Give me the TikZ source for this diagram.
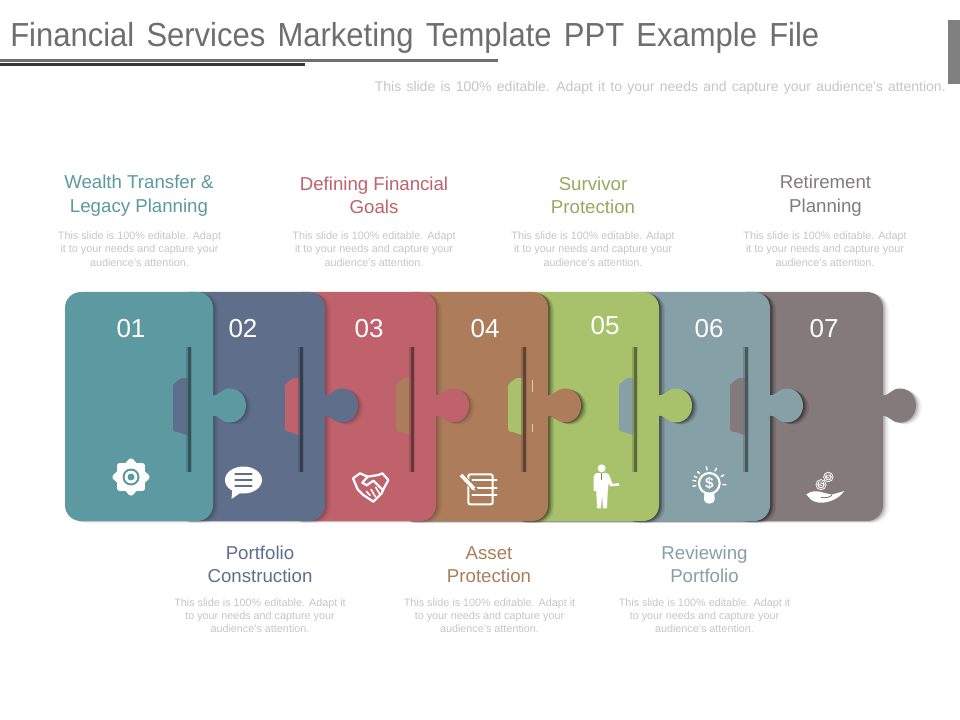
\documentclass[tikz,border=0pt]{standalone}
\usepackage{fontspec}
\setmainfont{Liberation Sans}
\newfontfamily\titlefont[FakeStretch=0.93,WordSpace=1.42]{Liberation Sans}
\newfontfamily\subfont[WordSpace=1.35]{Liberation Sans}
\definecolor{cA}{HTML}{5C99A0}
\definecolor{cB}{HTML}{5F6F8B}
\definecolor{cC}{HTML}{BF626C}
\definecolor{cD}{HTML}{AD7C5B}
\definecolor{cE}{HTML}{A8C26C}
\definecolor{cF}{HTML}{85A0A6}
\definecolor{cG}{HTML}{857A7B}
\definecolor{titlegray}{HTML}{6E6E6E}
\definecolor{bodygray}{HTML}{C6C6C6}
\tikzset{
  x=0.75pt,y=-0.75pt,
  heading/.style={align=center,font=\fontsize{14}{17.6}\selectfont,inner sep=0pt},
  bodytext/.style={align=center,text=bodygray,font=\fontsize{8.1}{9.9}\selectfont,inner sep=0pt},
  numlabel/.style={text=white,font=\fontsize{19.5}{22}\selectfont,inner sep=0pt},
  iconscope/.style={x=.25pt,y=-.25pt},
  stroke/.style={white,line width=#1,line join=round,line cap=round},
  stroke/.default=1.5pt,
}
% #1 left, #2 right
\newcommand{\piecepath}[2]{
  (#1+16,292) -- (#2-16,292) .. controls (#2-7,292) and (#2,299) .. (#2,308)
  -- (#2,395.5) .. controls (#2+6,396) and (#2+8,388.5) .. (#2+17,388.5)
  .. controls (#2+26,388.5) and (#2+33,396) .. (#2+33,405.5)
  .. controls (#2+33,415) and (#2+26,422.5) .. (#2+17,422.5)
  .. controls (#2+8,422.5) and (#2+6,415.5) .. (#2,415.5)
  -- (#2,505) .. controls (#2,514) and (#2-7,521) .. (#2-16,521)
  -- (#1+16,521) .. controls (#1+7,521) and (#1,514) .. (#1,505)
  -- (#1,308) .. controls (#1,299) and (#1+7,292) .. (#1+16,292) -- cycle
}
% #1 left #2 right #3 colour #4 shadow strength
\newcommand{\piece}[4]{
  \foreach \s/\o in {1/0.10,2/0.10,3/0.10,4.5/0.07,6/0.05}{
    \fill[black,opacity=#4*\o] [shift={(\s,\s*0.35)}] \piecepath{#1}{#2};
  }
  \fill[#3] \piecepath{#1}{#2};
}
% #1 right edge, #2 own colour, #3 next colour
\newcommand{\slot}[3]{
  \fill[#3] (#1-23,378) -- (#1-31,378) .. controls (#1-35,380) and (#1-37,382) .. (#1-40,385)
     -- (#1-40,428) .. controls (#1-40,432) and (#1-37,432) .. (#1-35,432) -- (#1-23,436) -- cycle;
  \fill[#2!55!black] (#1-25.5,347) rectangle (#1-22,472);
  \fill[#2!75!black,opacity=.6] (#1-27,347) rectangle (#1-25.5,472);
  \fill[#2!80!black,opacity=.5] (#1-22,347) rectangle (#1-21,472);
}
\begin{document}
\begin{tikzpicture}
\useasboundingbox (0,0) rectangle (960,720);
\fill[white] (0,0) rectangle (960,720);

% title block
\node[anchor=west,text=titlegray,inner sep=0pt,font=\titlefont\fontsize{25}{28}\selectfont] (title) at (10,38) {Financial Services Marketing Template PPT Example File};
\fill[titlegray] (0,59.5) rectangle (498,62);
\fill[black!78] (0,63) rectangle (305,66.5);
\fill[black!50] (948,20) rectangle (960,84);
\node[anchor=east,text=bodygray,inner sep=0pt,font=\subfont\fontsize{10.5}{12}\selectfont] (sub) at (946,88) {This slide is 100\% editable. Adapt it to your needs and capture your audience's attention.};

% pieces, back to front
\piece{730}{883}{cG}{.8}
\piece{619}{770}{cF}{1.6}
\slot{770}{cF}{cG}
\piece{508}{659}{cE}{1.6}
\slot{659}{cE}{cF}
\piece{396}{548}{cD}{1.6}
\slot{548}{cD}{cE}
\fill[white,opacity=.6] (532,380) rectangle (532.6,392);
\fill[white,opacity=.6] (532,424) rectangle (532.6,432);
\piece{285}{436}{cC}{.6}
\slot{436}{cC}{cD}
\piece{173}{325}{cB}{.6}
\slot{325}{cB}{cC}
\piece{65}{213}{cA}{.6}
\slot{213}{cA}{cB}

% numbers
\node[numlabel] (n1) at (131,328.5) {01};
\node[numlabel] (n2) at (243,328.5) {02};
\node[numlabel] (n3) at (369,328.5) {03};
\node[numlabel] (n4) at (485,328.5) {04};
\node[numlabel] (n5) at (605,325.5) {05};
\node[numlabel] (n6) at (709,328.5) {06};
\node[numlabel] (n7) at (824,328.5) {07};

% top headings
\node[heading,text=cA] (h1) at (139,195.5) {Wealth Transfer \&\\Legacy Planning};
\node[heading,text=cC] (h3) at (374,195.5) {Defining Financial\\Goals};
\node[heading,text=cE!88!black] (h5) at (593,195.5) {Survivor\\Protection};
\node[heading,text=cG] (h7) at (825.5,195.5) {Retirement\\Planning};
\node[bodytext] (b1) at (139.5,249) {This slide is 100\% editable. Adapt\\it to your needs and capture your\\audience's attention.};
\node[bodytext] (b3) at (374,249) {This slide is 100\% editable. Adapt\\it to your needs and capture your\\audience's attention.};
\node[bodytext] (b5) at (593,249) {This slide is 100\% editable. Adapt\\it to your needs and capture your\\audience's attention.};
\node[bodytext] (b7) at (825,249) {This slide is 100\% editable. Adapt\\it to your needs and capture your\\audience's attention.};
% bottom headings
\node[heading,text=cB] (h2) at (260,564.5) {Portfolio\\Construction};
\node[heading,text=cD] (h4) at (489,564.5) {Asset\\Protection};
\node[heading,text=cF] (h6) at (704.5,564.5) {Reviewing\\Portfolio};
\node[bodytext] (b2) at (260,615.5) {This slide is 100\% editable. Adapt it\\to your needs and capture your\\audience's attention.};
\node[bodytext] (b4) at (489.5,615.5) {This slide is 100\% editable. Adapt it\\to your needs and capture your\\audience's attention.};
\node[bodytext] (b6) at (704.5,615.5) {This slide is 100\% editable. Adapt it\\to your needs and capture your\\audience's attention.};

% icon 1: gear
\begin{scope}[shift={(131,477)}]
  \fill[white] plot[domain=0:360,samples=145,smooth] ({(16.8+1.7*cos(8*\x))*cos(\x)},{(16.8+1.7*cos(8*\x))*sin(\x)}) -- cycle;
  \fill[cA] (0,0) circle[radius=8.5];
  \fill[white] (0,0) circle[radius=6.3];
  \fill[cA] (0,0) circle[radius=3.5];
\end{scope}
% icon 2: speech bubble
\begin{scope}[shift={(243.5,480)}]
  \fill[white] (0,0) ellipse[x radius=18.5,y radius=13.5];
  \fill[white] (-11,8) -- (-12,19) -- (-2,12) -- cycle;
  \foreach \yy in {-6,0,6} \draw[cB,line width=1.9pt,line cap=round] (-8,\yy) -- (8,\yy);
\end{scope}
% icon 3: handshake
\begin{scope}[shift={(345,460)},iconscope]
  \draw[stroke=1.7pt] (24,55) -- (45,40) -- (68,50) -- (100,45) -- (112,40) -- (130,60) -- (115,88) -- (110,100) -- (85,125) -- (55,105) -- (38,88) -- cycle;
  \draw[stroke=1.7pt] (68,50) -- (52,68) -- (65,76) -- (85,62) -- (113,90);
  \draw[stroke=1.2pt] (64,94) -- (75,106) (78,88) -- (91,110) (92,82) -- (103,100);
\end{scope}
% icon 4: notebook with pencil
\begin{scope}[shift={(455,465)},iconscope]
  \draw[white,line width=1.5pt,rounded corners=1.5pt] (40,28) rectangle (113,118);
  \foreach \yy in {46,68,91} \draw[stroke=1.5pt] (52,\yy) -- (125,\yy);
  \draw[cD,line width=4pt] (18,30) -- (62,76);
  \draw[white,line width=2.7pt] (18,30) -- (57,71);
  \fill[white] (53,66) -- (62,77) -- (48,72) -- cycle;
\end{scope}
% icon 5: man
\begin{scope}[shift={(575,455)},iconscope]
  \fill[white] (80,40) circle[radius=12];
  \fill[white] (66,54) -- (94,54) .. controls (100,56) and (103,60) .. (105,66)
    -- (112,86) -- (132,85) -- (133,92) -- (106,94) -- (101,84) -- (98,112) -- (96,160)
    -- (84,160) -- (81,118) -- (78,160) -- (66,160) -- (64,112) -- (63,108) -- (56,107) -- (56,66)
    .. controls (57,60) and (60,56) .. (66,54) -- cycle;
  \draw[cE!70!black,line width=.6pt] (80,55) -- (80,75);
\end{scope}
% icon 6: bulb
\begin{scope}[shift={(680,460)},iconscope]
  \draw[white,line width=1.6pt] (88,70) circle[radius=31];
  \fill[white] (73,100) -- (103,100) -- (104,118) .. controls (102,128) and (95,131) .. (88,131) .. controls (81,131) and (74,128) .. (72,118) -- cycle;
  \foreach \a in {-170,-135,-100,-65,-30,5,170,205}
    \draw[stroke=1.1pt] ({88+41*cos(\a)},{70+41*sin(\a)}) -- ({88+50*cos(\a)},{70+50*sin(\a)});
  \node[text=white,inner sep=0pt,font=\bfseries\fontsize{11.5}{12}\selectfont] (dollarbulb) at (88,70) {\$};
\end{scope}
% icon 7: hand with coins
\begin{scope}[shift={(795,462)},iconscope]
  \fill[white] (100,45) circle[radius=15.5];
  \fill[white] (78,68) circle[radius=16.5];
  \draw[cG,line width=.5pt] (78,68) circle[radius=12.5] (100,45) circle[radius=11.5];
  \node[text=cG,inner sep=0pt,font=\bfseries\fontsize{6}{7}\selectfont] (dollarA) at (78,68) {\$};
  \node[text=cG,inner sep=0pt,font=\bfseries\fontsize{5.5}{7}\selectfont] (dollarB) at (100,45) {\$};
  \fill[white] (34,97) .. controls (50,85) and (68,86) .. (85,92) -- (110,98) -- (148,87)
    .. controls (135,105) and (115,118) .. (85,122) .. controls (70,124) and (55,118) .. (48,113) -- cycle;
  \draw[cG,line width=.7pt,line cap=round] (78,106) .. controls (92,109) and (104,106) .. (110,100);
\end{scope}
\end{tikzpicture}
\end{document}
